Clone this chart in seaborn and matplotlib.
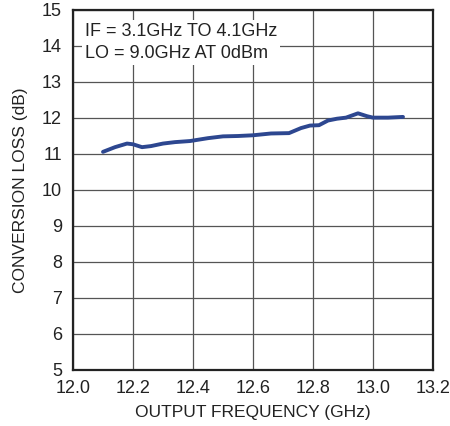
import matplotlib
matplotlib.use("Agg")
import matplotlib.pyplot as plt
import seaborn as sns
import pandas as pd

# conversion loss vs output frequency
freq_ghz = [12.10, 12.14, 12.18, 12.20, 12.23, 12.26, 12.30, 12.34, 12.39,
            12.45, 12.50, 12.55, 12.60, 12.66, 12.72, 12.76, 12.79, 12.82,
            12.85, 12.88, 12.91, 12.95, 12.98, 13.00, 13.05, 13.10]
loss_db = [11.06, 11.19, 11.29, 11.27, 11.19, 11.22, 11.29, 11.33, 11.36,
           11.44, 11.49, 11.50, 11.52, 11.57, 11.58, 11.72, 11.79, 11.80,
           11.93, 11.98, 12.01, 12.13, 12.05, 12.01, 12.01, 12.03]

x_ticks = [12.0, 12.2, 12.4, 12.6, 12.8, 13.0, 13.2]
y_ticks = list(range(5, 16))

df = pd.DataFrame({"freq": freq_ghz, "loss": loss_db})

sns.set_style("white")
plt.rcParams["font.family"] = ["Liberation Sans", "DejaVu Sans"]

fig = plt.figure(figsize=(4.5, 4.26), dpi=100)
ax = fig.add_axes([73 / 450, 56 / 426, 360 / 450, 360 / 426])

sns.lineplot(data=df, x="freq", y="loss", ax=ax, color="#2d4790",
             linewidth=2.8, solid_capstyle="round", solid_joinstyle="round")

ax.set_xlim(12.0, 13.2)
ax.set_ylim(5, 15)
ax.set_xticks(x_ticks)
ax.set_xticklabels([f"{t:.1f}" for t in x_ticks])
ax.set_yticks(y_ticks)
ax.grid(True, color="#555555", linewidth=0.9)
ax.set_axisbelow(True)
ax.tick_params(axis="x", length=0, labelsize=13, pad=7, colors="#222222")
ax.tick_params(axis="y", length=0, labelsize=13, pad=8, colors="#222222")
for s in ax.spines.values():
    s.set_color("#222222")
    s.set_linewidth(1.6)

ax.set_xlabel("OUTPUT FREQUENCY (GHz)", fontsize=12.5, color="#222222", labelpad=6)
ax.set_ylabel("CONVERSION LOSS (dB)", fontsize=12.5, color="#222222", labelpad=10)

ax.text(0.033, 0.965, "IF = 3.1GHz TO 4.1GHz\nLO = 9.0GHz AT 0dBm",
        transform=ax.transAxes, ha="left", va="top", fontsize=13,
        color="#222222", linespacing=1.45,
        bbox=dict(facecolor="white", edgecolor="none", pad=2))

fig.savefig("out.png", dpi=100)
